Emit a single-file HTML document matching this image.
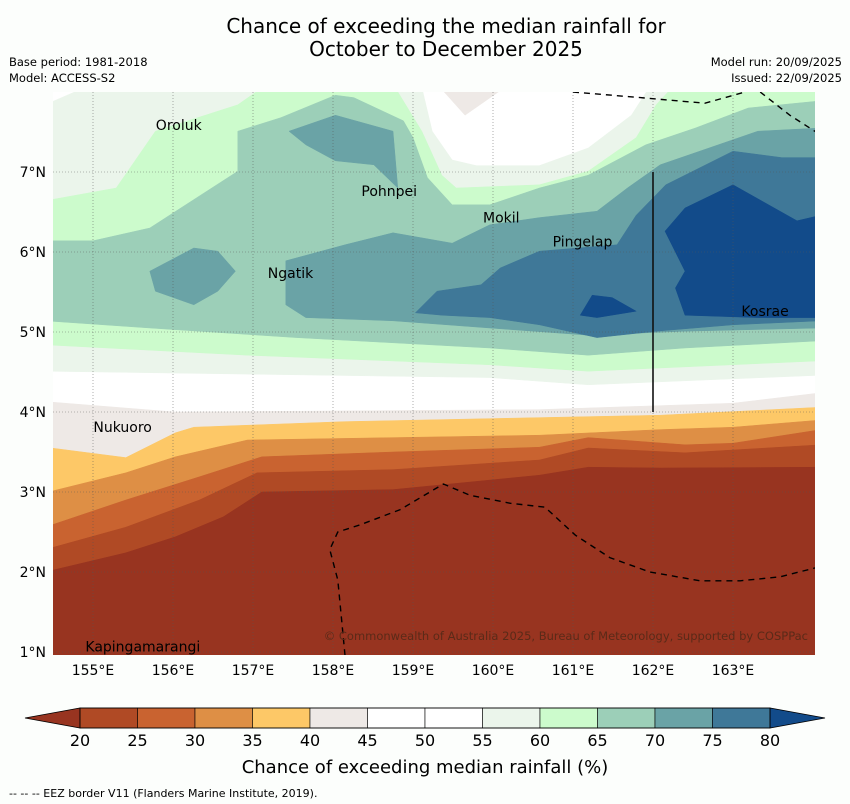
<!DOCTYPE html>
<html><head><meta charset="utf-8"><style>
html,body{margin:0;padding:0;background:#fcfefc;}
svg{display:block;font-family:"DejaVu Sans","Liberation Sans",sans-serif;}
</style></head><body>
<svg id="chart" width="850" height="804" viewBox="0 0 850 804">
<defs><clipPath id="mapclip"><rect x="53" y="92" width="762" height="563"/></clipPath></defs>
<rect x="0" y="0" width="850" height="804" fill="#fcfefc"/>
<text x="446" y="33" font-size="20" text-anchor="middle">Chance of exceeding the median rainfall for</text>
<text x="446" y="56" font-size="20" text-anchor="middle">October to December 2025</text>
<text x="9" y="66" font-size="11.5">Base period: 1981-2018</text>
<text x="9" y="82" font-size="11.5">Model: ACCESS-S2</text>
<text x="842" y="66" font-size="11.5" text-anchor="end">Model run: 20/09/2025</text>
<text x="842" y="82" font-size="11.5" text-anchor="end">Issued: 22/09/2025</text>
<g id="map" clip-path="url(#mapclip)"></g>
<g id="overlay"></g>
<g id="cbar"></g>
<text x="425" y="773" font-size="18" text-anchor="middle">Chance of exceeding median rainfall (%)</text>
<text x="9" y="797" font-size="11">--  --  -- EEZ border V11 (Flanders Marine Institute, 2019).</text>
</svg>
<script>
// axis extents
const lonTicks=[155,156,157,158,159,160,161,162,163];
const latTicks=[1,2,3,4,5,6,7];
const cbLevels=[20,25,30,35,40,45,50,55,60,65,70,75,80];
const cbColors=['#b04a25','#c96330','#de8f45','#fdc867','#eee9e6','#ffffff','#ffffff','#ebf5eb','#ccfbcc','#9ccfb8','#6aa3a6','#3f7898'];
const cbLow='#983420', cbHigh='#124b8a';
// contour regions (lon/lat)
const north55Top=[[154.4,7.84],[155.0,8.1],[159.1,8.1],[159.24,7.51],[159.49,7.15],[159.79,7.08],[160.58,7.08],[161.19,7.3],[161.73,7.71],[161.98,8.1],[164.1,8.1]];
const north55Bot=[[154.4,4.51],[159.96,4.43],[161.19,4.34],[164.1,4.46]];
const north60Top=[[154.4,6.64],[155.29,6.8],[155.78,7.51],[156.81,7.84],[157.18,8.1],[158.75,8.1],[159.11,7.51],[159.36,6.96],[159.54,6.8],[160.58,6.84],[161.19,7.01],[161.79,7.43],[162.04,7.84],[162.28,8.1],[164.1,8.1]];
const north60Bot=[[154.4,4.84],[156.93,4.71],[159.96,4.59],[161.19,4.51],[164.1,4.64]];
const north65Top=[[154.4,6.14],[155.0,6.14],[155.71,6.3],[156.81,7.01],[156.81,7.51],[157.35,7.68],[158.03,7.96],[158.26,7.93],[158.88,7.64],[159.0,7.43],[159.18,6.93],[159.49,6.59],[159.96,6.59],[160.58,6.8],[161.19,6.96],[161.91,7.34],[162.53,7.55],[163.19,7.8],[164.1,7.89]];
const north65Bot=[[154.4,5.14],[155.71,5.05],[157.54,4.93],[159.96,4.8],[161.19,4.71],[162.4,4.8],[164.1,4.89]];
const north70Top=[[157.41,5.89],[158.15,6.09],[158.75,6.24],[159.49,6.11],[159.96,6.34],[160.58,6.43],[161.3,6.51],[161.68,6.8],[162.09,7.09],[162.7,7.3],[163.31,7.51],[164.1,7.55]];
const north70Bot=[[157.41,5.34],[157.66,5.18],[158.75,5.14],[159.96,5.05],[161.19,4.96],[162.4,5.01],[164.1,5.05]];
const blob70West=[[155.71,5.76],[156.26,6.05],[156.56,6.01],[156.78,5.76],[156.56,5.51],[156.26,5.34],[155.78,5.51]];
const blob70North=[[157.45,7.51],[158.03,7.71],[158.75,7.51],[158.81,6.8],[158.51,7.09],[158.03,7.14],[157.66,7.34]];
const north75Top=[[159.03,5.24],[159.3,5.51],[159.85,5.59],[160.09,5.8],[160.58,6.01],[161.55,6.09],[161.79,6.46],[162.16,6.84],[163.0,7.26],[163.61,7.18],[164.1,7.18]];
const north75Bot=[[159.03,5.24],[159.36,5.21],[159.96,5.18],[160.58,5.09],[161.3,4.93],[162.04,5.01],[163.0,5.09],[164.1,5.14]];
const blob80East=[[162.15,6.26],[162.4,6.55],[163.0,6.84],[163.8,6.39],[164.1,6.46],[164.1,5.18],[163.31,5.18],[162.4,5.21],[162.28,5.55],[162.4,5.76]];
const blob80Small=[[161.09,5.21],[161.24,5.46],[161.49,5.43],[161.79,5.26],[161.3,5.18]];
const topGreyBlob=[[159.3,8.1],[159.65,7.71],[160.21,8.1]];
const south45Top=[[154.4,4.13],[156.03,4.0],[160.58,4.03],[163.0,4.11],[164.1,4.24]];
const south40Top=[[154.4,3.56],[155.41,3.43],[156.03,3.74],[156.26,3.81],[158.15,3.88],[160.58,3.93],[162.09,3.96],[164.1,4.06]];
const south35Top=[[154.4,2.99],[155.41,3.24],[156.03,3.44],[156.93,3.65],[158.75,3.68],[160.58,3.71],[162.09,3.78],[163.0,3.81],[164.1,3.9]];
const south30Top=[[154.4,2.56],[155.41,2.9],[156.33,3.19],[157.11,3.44],[158.75,3.5],[160.58,3.56],[161.19,3.68],[162.4,3.59],[163.0,3.61],[164.1,3.78]];
const south25Top=[[154.4,2.28],[155.41,2.56],[156.33,2.9],[157.05,3.24],[158.75,3.28],[160.58,3.4],[161.19,3.55],[162.4,3.49],[164.1,3.59]];
const south20Top=[[154.4,2.0],[155.41,2.24],[156.03,2.44],[156.63,2.69],[157.11,3.0],[158.75,3.03],[160.58,3.21],[161.19,3.31],[162.09,3.3],[164.1,3.31]];
const eezSouth=[[158.15,0.96],[158.06,1.9],[157.96,2.28],[158.06,2.5],[158.34,2.59],[158.84,2.78],[159.38,3.1],[159.71,2.96],[160.21,2.86],[160.65,2.81],[161.03,2.46],[161.46,2.18],[161.96,2.0],[162.59,1.89],[163.09,1.89],[163.59,1.94],[164.1,2.07]];
const eezNorthA=[[161.0,8.0],[161.84,7.93],[162.65,7.86],[163.15,8.0]];
const eezNorthB=[[163.34,8.0],[163.71,7.71],[164.1,7.46]];
const islands=[['Oroluk',155.76,7.59],['Pohnpei',158.33,6.76],['Mokil',159.85,6.43],['Pingelap',160.72,6.13],['Ngatik',157.16,5.74],['Kosrae',163.08,5.26],['Nukuoro',154.98,3.81],['Kapingamarangi',154.88,1.07]];

const NS='http://www.w3.org/2000/svg';
const X=lon=>53+(lon-154.5)*80;
const Y=lat=>92+(8-lat)*80;
const CB=v=>80+(v-20)*(690/60);
function mk(tag,attrs,parent){const e=document.createElementNS(NS,tag);for(const k in attrs)e.setAttribute(k,attrs[k]);parent.appendChild(e);return e;}
const pts=a=>a.map(p=>X(p[0]).toFixed(1)+','+Y(p[1]).toFixed(1)).join(' ');
const map=document.getElementById('map'), ov=document.getElementById('overlay'), cb=document.getElementById('cbar');
function band(top,bot,color,name){
  const poly=top.concat(bot.slice().reverse());
  const e=mk('polygon',{points:pts(poly),fill:color,stroke:color,'stroke-width':0.5},map);
  
  
}
const bottomEdge=[[154.4,0.9],[164.1,0.9]];
mk('rect',{x:53,y:92,width:762,height:563,fill:'#ffffff'},map);
band(north55Top,north55Bot,'#ebf5eb','band-55-60');
band(topGreyBlob,[],'#eee9e6','band-40-45-north');
band(north60Top,north60Bot,'#ccfbcc','band-60-65');
band(north65Top,north65Bot,'#9ccfb8','band-65-70');
band(north70Top,north70Bot,'#6aa3a6','band-70-75');
band(blob70West,[],'#6aa3a6','band-70-75-west');
band(blob70North,[],'#6aa3a6','band-70-75-north');
band(north75Top,north75Bot,'#3f7898','band-75-80');
band(blob80East,[],'#124b8a','band-80-plus-east');
band(blob80Small,[],'#124b8a','band-80-plus-small');
band(south45Top,bottomEdge,'#eee9e6','band-40-45');
band(south40Top,bottomEdge,'#fdc867','band-35-40');
band(south35Top,bottomEdge,'#de8f45','band-30-35');
band(south30Top,bottomEdge,'#c96330','band-25-30');
band(south25Top,bottomEdge,'#b04a25','band-20-25');
band(south20Top,bottomEdge,'#983420','band-below-20');
// grid
lonTicks.forEach(l=>{const e=mk('line',{x1:X(l),x2:X(l),y1:92,y2:655,stroke:'#555','stroke-width':0.6,'stroke-dasharray':'1,2','stroke-opacity':0.8},map);
 
 });
latTicks.forEach(l=>{const e=mk('line',{x1:53,x2:815,y1:Y(l),y2:Y(l),stroke:'#555','stroke-width':0.6,'stroke-dasharray':'1,2','stroke-opacity':0.8},map);
 
 });
// EEZ lines
[eezSouth,eezNorthA,eezNorthB].forEach(a=>{const e=mk('polyline',{points:pts(a),fill:'none',stroke:'#000','stroke-width':1.4,'stroke-dasharray':'6,5'},map);
 
 });
// meridian line
const vl=mk('line',{x1:X(162),x2:X(162),y1:Y(7),y2:Y(4),stroke:'#111','stroke-width':1.6},map);


// islands
islands.forEach(d=>{const t=mk('text',{x:X(d[1])+2,y:Y(d[2])+5,'font-size':14,fill:'#000'},map);t.textContent=d[0];
 
 });
const c=mk('text',{x:808,y:640,'font-size':11.5,'text-anchor':'end',fill:'#5a2a18'},map);c.textContent='© Commonwealth of Australia 2025, Bureau of Meteorology, supported by COSPPac';


// ticks labels
lonTicks.forEach(l=>{const t=mk('text',{x:X(l),y:675,'font-size':14,'text-anchor':'middle'},ov);t.textContent=l+'°E';
 
 });
latTicks.forEach(l=>{const t=mk('text',{x:46,y:Y(l)+5,'font-size':14,'text-anchor':'end'},ov);t.textContent=l+'°N';
 
 });
// colorbar
const y0=708,y1=728;
const lo=mk('polygon',{points:`${CB(20)},${y0} ${CB(20)},${y1} 25,${(y0+y1)/2}`,fill:cbLow,stroke:'#000','stroke-width':0.8},cb);


const hi=mk('polygon',{points:`${CB(80)},${y0} ${CB(80)},${y1} 825,${(y0+y1)/2}`,fill:cbHigh,stroke:'#000','stroke-width':0.8},cb);


cbColors.forEach((col,i)=>{const r=mk('rect',{x:CB(cbLevels[i]),y:y0,width:CB(cbLevels[i+1])-CB(cbLevels[i]),height:y1-y0,fill:col,stroke:'#000','stroke-width':0.6},cb);
 
 });
mk('rect',{x:CB(20),y:y0,width:CB(80)-CB(20),height:y1-y0,fill:'none',stroke:'#000','stroke-width':0.8},cb);
cbLevels.forEach(v=>{const t=mk('text',{x:CB(v),y:746,'font-size':16,'text-anchor':'middle'},cb);t.textContent=v;
 
 });
</script>
</body></html>
